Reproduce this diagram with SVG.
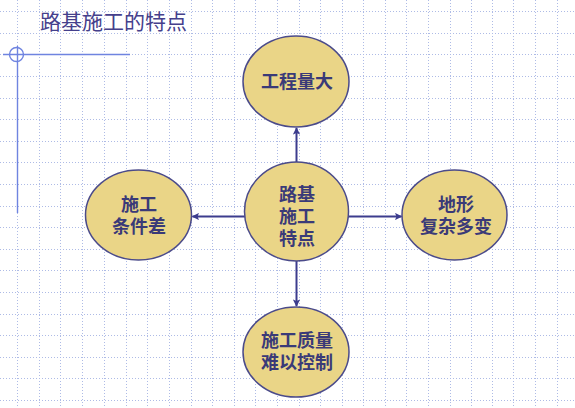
<svg xmlns="http://www.w3.org/2000/svg" width="575" height="408" viewBox="0 0 575 408">
<defs>
<marker id="ah" viewBox="0 0 10 10" refX="9" refY="5" markerWidth="4" markerHeight="3.6" orient="auto" markerUnits="strokeWidth">
<path d="M0,0 L10,5 L0,10 L2,5 Z" fill="#3C3C8E"/>
</marker>
<style>
.grid{stroke:#AEBBE6;stroke-width:1;stroke-dasharray:1 2;fill:none}
.deco{stroke:#6F84E0;stroke-width:1.4;fill:none}
.title{font-family:"Noto Sans CJK SC","Noto Sans",sans-serif;font-size:21px;fill:#45408C}
.node ellipse{fill:#EAD587;stroke:#4B4B8A;stroke-width:1.5}
.node text{font-family:"Noto Sans CJK SC",sans-serif;font-size:18px;font-weight:bold;fill:#3A3A78;text-anchor:middle}
.conn line{stroke:#3C3C8E;stroke-width:2;marker-end:url(#ah)}
</style>
</defs>
<rect width="575" height="408" fill="#FFFFFF"/>
<path class="grid" d="M17.5,0V408M39.5,0V408M60.5,0V408M82.5,0V408M104.5,0V408M126.5,0V408M147.5,0V408M169.5,0V408M191.5,0V408M212.5,0V408M234.5,0V408M255.5,0V408M277.5,0V408M299.5,0V408M320.5,0V408M342.5,0V408M363.5,0V408M385.5,0V408M406.5,0V408M428.5,0V408M450.5,0V408M471.5,0V408M492.5,0V408M513.5,0V408M535.5,0V408M557.5,0V408
M0,11.5H575M0,33.5H575M0,54.5H575M0,76.5H575M0,98.5H575M0,119.5H575M0,141.5H575M0,162.5H575M0,184.5H575M0,206.5H575M0,227.5H575M0,249.5H575M0,270.5H575M0,292.5H575M0,314.5H575M0,335.5H575M0,357.5H575M0,378.5H575M0,400.5H575"/>
<g id="decoration">
<line class="deco" x1="3" y1="54.5" x2="130" y2="54.5"/>
<line class="deco" x1="17.5" y1="46" x2="17.5" y2="213"/>
<circle class="deco" cx="16.5" cy="54.5" r="7"/>
</g>
<text class="title" x="40" y="29">路基施工的特点</text>
<g id="connectors" class="conn">
<line x1="296.5" y1="162" x2="296.5" y2="128"/>
<line x1="296.5" y1="261" x2="296.5" y2="306"/>
<line x1="245" y1="216.5" x2="192.5" y2="216.5"/>
<line x1="348" y1="216.5" x2="401.5" y2="216.5"/>
</g>
<g id="node-center" class="node">
<ellipse cx="296.5" cy="211.5" rx="52" ry="49.5"/>
<text x="297" y="201">路基<tspan x="297" dy="22">施工</tspan><tspan x="297" dy="22">特点</tspan></text>
</g>
<g id="node-top" class="node">
<ellipse cx="296" cy="81.5" rx="53" ry="45.5"/>
<text x="297" y="88">工程量大</text>
</g>
<g id="node-bottom" class="node">
<ellipse cx="296" cy="352" rx="53" ry="45"/>
<text x="297" y="347">施工质量<tspan x="297" dy="22">难以控制</tspan></text>
</g>
<g id="node-left" class="node">
<ellipse cx="138.5" cy="215" rx="53" ry="45"/>
<text x="139" y="211">施工<tspan x="139" dy="22">条件差</tspan></text>
</g>
<g id="node-right" class="node">
<ellipse cx="454.5" cy="215" rx="52.5" ry="45"/>
<text x="456" y="211">地形<tspan x="456" dy="22">复杂多变</tspan></text>
</g>
</svg>
